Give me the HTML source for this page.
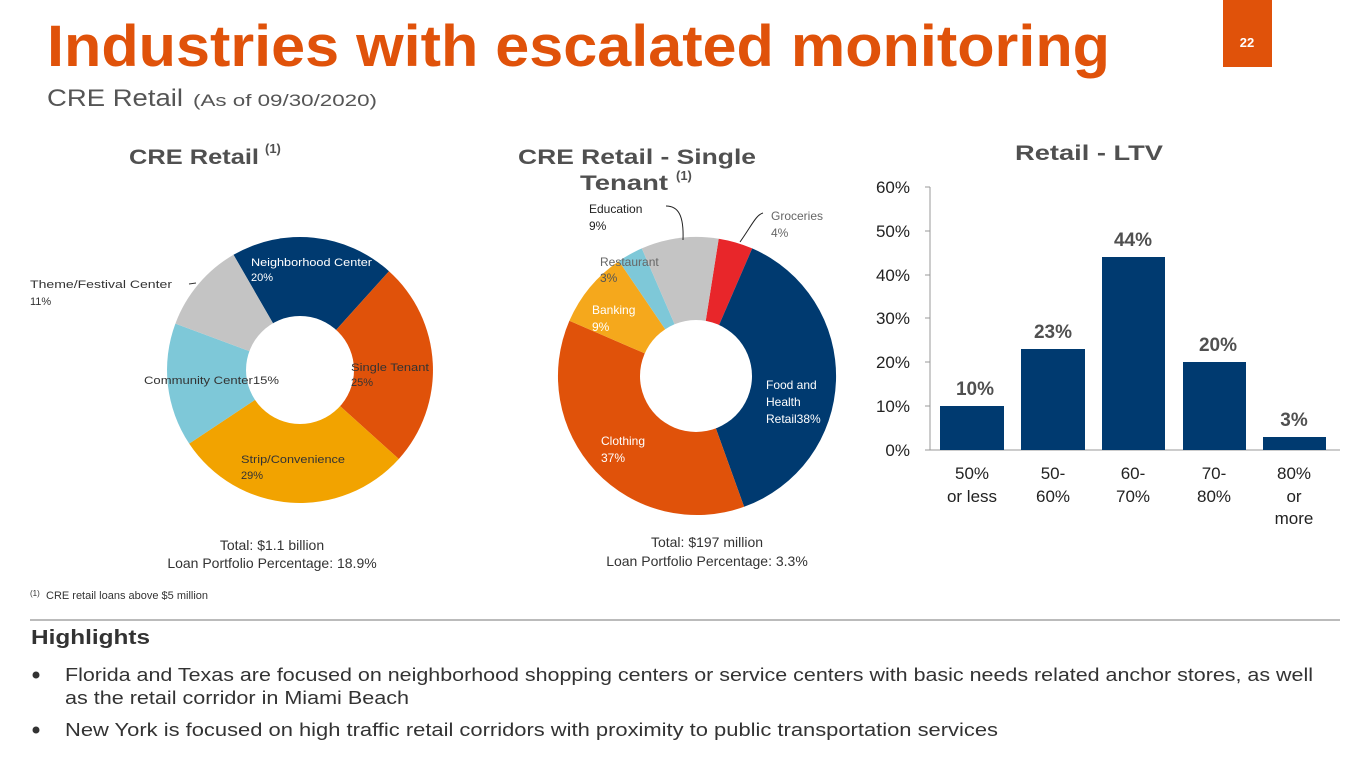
<!DOCTYPE html>
<html><head><meta charset="utf-8"><style>
html,body{margin:0;padding:0;background:#fff;}
svg{display:block;}
text{font-family:"Liberation Sans","DejaVu Sans",sans-serif;}
</style></head><body>
<svg width="1365" height="768" viewBox="0 0 1365 768" xmlns="http://www.w3.org/2000/svg">
<rect width="1365" height="768" fill="#fff"/>
<text x="47" y="66" font-size="58" font-weight="bold" fill="#e0520a" textLength="1063" lengthAdjust="spacingAndGlyphs">Industries with escalated monitoring</text>
<rect x="1223" y="0" width="49" height="67" fill="#e0520a"/>
<text x="1247" y="47" font-size="13" font-weight="bold" fill="#fff" text-anchor="middle">22</text>
<text x="47" y="106" font-size="24" fill="#555" textLength="136" lengthAdjust="spacingAndGlyphs">CRE Retail</text>
<text x="193" y="106" font-size="17" fill="#555" textLength="184" lengthAdjust="spacingAndGlyphs">(As of 09/30/2020)</text>

<text x="129" y="164" font-size="21" font-weight="bold" fill="#505050" textLength="130" lengthAdjust="spacingAndGlyphs">CRE Retail</text>
<text x="265" y="153" font-size="13" font-weight="bold" fill="#505050">(1)</text>
<text x="518" y="164" font-size="21" font-weight="bold" fill="#505050" textLength="238" lengthAdjust="spacingAndGlyphs">CRE Retail - Single</text>
<text x="580" y="190" font-size="21" font-weight="bold" fill="#505050" textLength="88" lengthAdjust="spacingAndGlyphs">Tenant</text>
<text x="676" y="180" font-size="13" font-weight="bold" fill="#505050">(1)</text>
<text x="1015" y="160" font-size="21" font-weight="bold" fill="#505050" textLength="148" lengthAdjust="spacingAndGlyphs">Retail - LTV</text>

<!-- Donut 1 -->
<g>
<path d="M300 370 L233.5 254.8 A133 133 0 0 1 389 271.2 Z" fill="#003a70"/>
<path d="M300 370 L389 271.2 A133 133 0 0 1 398.8 459 Z" fill="#e0520a"/>
<path d="M300 370 L398.8 459 A133 133 0 0 1 189.2 443.6 Z" fill="#f2a300"/>
<path d="M300 370 L189.2 443.6 A133 133 0 0 1 175.4 323.6 Z" fill="#7ec8d8"/>
<path d="M300 370 L175.4 323.6 A133 133 0 0 1 233.5 254.8 Z" fill="#c4c4c4"/>
<circle cx="300" cy="370" r="54" fill="#fff"/>
</g>
<g font-size="11">
<text x="251" y="266" fill="#fff" textLength="121" lengthAdjust="spacingAndGlyphs">Neighborhood Center</text>
<text x="251" y="281" fill="#fff">20%</text>
<text x="351" y="371" fill="#333" textLength="78" lengthAdjust="spacingAndGlyphs">Single Tenant</text>
<text x="351" y="386" fill="#333">25%</text>
<text x="241" y="463" fill="#333" textLength="104" lengthAdjust="spacingAndGlyphs">Strip/Convenience</text>
<text x="241" y="479" fill="#333">29%</text>
<text x="144" y="384" fill="#333" textLength="135" lengthAdjust="spacingAndGlyphs">Community Center15%</text>
<text x="30" y="288" fill="#333" textLength="142" lengthAdjust="spacingAndGlyphs">Theme/Festival Center</text>
<text x="30" y="305" fill="#333">11%</text>
<path d="M189 284 L196 283" stroke="#333" fill="none"/>
</g>

<!-- Donut 2 -->
<g>
<path d="M697 376 L718.7 238.7 A139 139 0 0 1 752.2 248.4 Z" fill="#e8262a"/>
<path d="M697 376 L752.2 248.4 A139 139 0 0 1 744.1 506.8 Z" fill="#003a70"/>
<path d="M697 376 L744.1 506.8 A139 139 0 0 1 569.4 320.8 Z" fill="#e0520a"/>
<path d="M697 376 L569.4 320.8 A139 139 0 0 1 618.9 261.1 Z" fill="#f5a81c"/>
<path d="M697 376 L618.9 261.1 A139 139 0 0 1 641.8 248.4 Z" fill="#7ec8d8"/>
<path d="M697 376 L641.8 248.4 A139 139 0 0 1 718.7 238.7 Z" fill="#c4c4c4"/>
<circle cx="696" cy="376" r="56" fill="#fff"/>
</g>
<g font-size="12">
<text x="589" y="213" fill="#222">Education</text>
<text x="589" y="230" fill="#222">9%</text>
<path d="M666 206 C678 206 684 215 683 240" stroke="#222" fill="none"/>
<text x="771" y="220" fill="#666">Groceries</text>
<text x="771" y="237" fill="#666">4%</text>
<path d="M763 213 C756 215 752 225 740 242" stroke="#222" fill="none"/>
<text x="600" y="266" fill="#666">Restaurant</text>
<text x="600" y="282" fill="#555">3%</text>
<text x="592" y="314" fill="#fff">Banking</text>
<text x="592" y="331" fill="#fff">9%</text>
<text x="766" y="389" fill="#fff">Food and</text>
<text x="766" y="406" fill="#fff">Health</text>
<text x="766" y="423" fill="#fff">Retail38%</text>
<text x="601" y="445" fill="#fff">Clothing</text>
<text x="601" y="462" fill="#fff">37%</text>
</g>

<!-- Bar chart -->
<g font-size="17" fill="#222">
<line x1="930" y1="187" x2="930" y2="450" stroke="#999"/>
<line x1="930" y1="450" x2="1340" y2="450" stroke="#999"/>
<g stroke="#999">
<line x1="925" y1="187" x2="930" y2="187"/><line x1="925" y1="231" x2="930" y2="231"/>
<line x1="925" y1="275" x2="930" y2="275"/><line x1="925" y1="318" x2="930" y2="318"/>
<line x1="925" y1="362" x2="930" y2="362"/><line x1="925" y1="406" x2="930" y2="406"/>
<line x1="925" y1="450" x2="930" y2="450"/>
</g>
<text x="910" y="193" text-anchor="end">60%</text>
<text x="910" y="237" text-anchor="end">50%</text>
<text x="910" y="281" text-anchor="end">40%</text>
<text x="910" y="324" text-anchor="end">30%</text>
<text x="910" y="368" text-anchor="end">20%</text>
<text x="910" y="412" text-anchor="end">10%</text>
<text x="910" y="456" text-anchor="end">0%</text>
<rect x="940" y="406" width="64" height="44" fill="#003a70"/>
<rect x="1021" y="349" width="64" height="101" fill="#003a70"/>
<rect x="1102" y="257" width="63" height="193" fill="#003a70"/>
<rect x="1183" y="362" width="63" height="88" fill="#003a70"/>
<rect x="1263" y="437" width="63" height="13" fill="#003a70"/>
<g font-weight="bold" font-size="19" fill="#505050" text-anchor="middle">
<text x="975" y="395">10%</text>
<text x="1053" y="338">23%</text>
<text x="1133" y="246">44%</text>
<text x="1218" y="351">20%</text>
<text x="1294" y="426">3%</text>
</g>
<g text-anchor="middle">
<text x="972" y="479">50%</text><text x="972" y="502">or less</text>
<text x="1053" y="479">50-</text><text x="1053" y="502">60%</text>
<text x="1133" y="479">60-</text><text x="1133" y="502">70%</text>
<text x="1214" y="479">70-</text><text x="1214" y="502">80%</text>
<text x="1294" y="479">80%</text><text x="1294" y="502">or</text><text x="1294" y="524">more</text>
</g>
</g>

<g font-size="14" fill="#333" text-anchor="middle">
<text x="272" y="550">Total: $1.1 billion</text>
<text x="272" y="568">Loan Portfolio Percentage: 18.9%</text>
<text x="707" y="547">Total: $197 million</text>
<text x="707" y="566">Loan Portfolio Percentage: 3.3%</text>
</g>
<text x="30" y="596" font-size="8" fill="#333">(1)</text>
<text x="46" y="599" font-size="11" fill="#333">CRE retail loans above $5 million</text>
<line x1="30" y1="620" x2="1340" y2="620" stroke="#bbb" stroke-width="2"/>
<text x="31" y="644" font-size="20" font-weight="bold" fill="#333" textLength="119" lengthAdjust="spacingAndGlyphs">Highlights</text>
<g font-size="18" fill="#333">
<circle cx="36" cy="675" r="3.5" fill="#333"/>
<text x="65" y="681" textLength="1248" lengthAdjust="spacingAndGlyphs">Florida and Texas are focused on neighborhood shopping centers or service centers with basic needs related anchor stores, as well</text>
<text x="65" y="704" textLength="344" lengthAdjust="spacingAndGlyphs">as the retail corridor in Miami Beach</text>
<circle cx="36" cy="730" r="3.5" fill="#333"/>
<text x="65" y="736" textLength="933" lengthAdjust="spacingAndGlyphs">New York is focused on high traffic retail corridors with proximity to public transportation services</text>
</g>
</svg>
</body></html>
